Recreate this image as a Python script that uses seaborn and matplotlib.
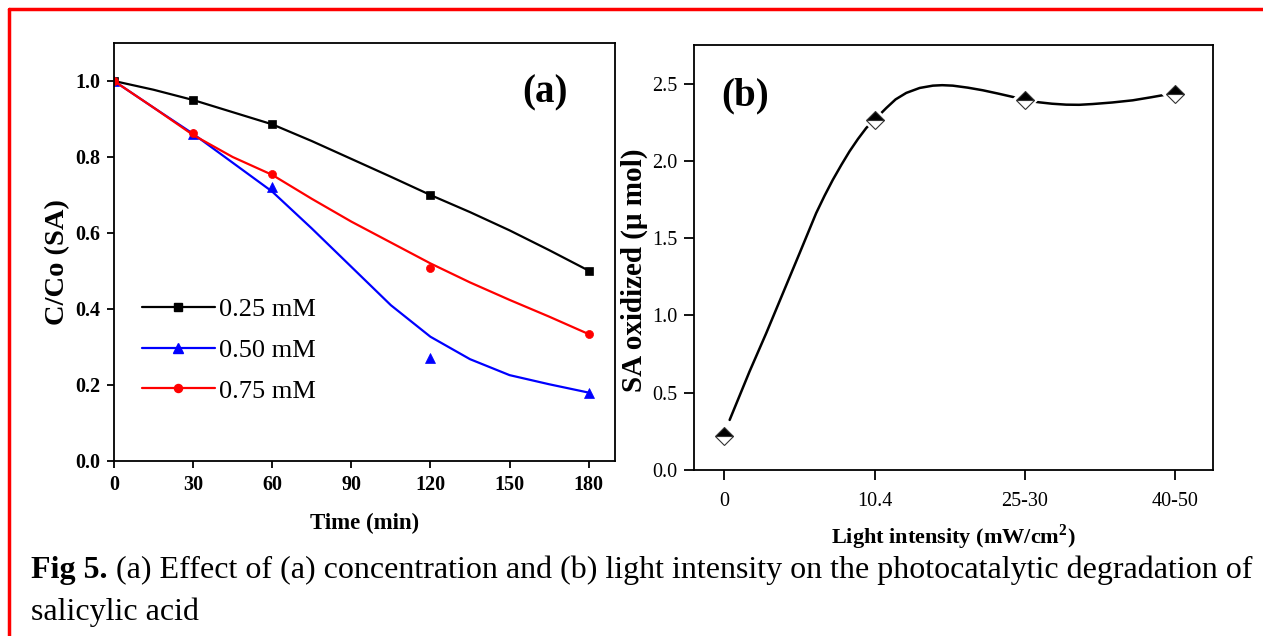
import matplotlib
matplotlib.use("Agg")
import matplotlib.pyplot as plt
from matplotlib.lines import Line2D
import seaborn as sns

# ---------------- data: panel (a) ----------------
time_pts = [0, 30, 60, 120, 180]
c025_pts = [1.00, 0.950, 0.886, 0.700, 0.500]
c050_pts = [1.00, 0.861, 0.722, 0.270, 0.180]
c075_pts = [1.00, 0.862, 0.755, 0.509, 0.333]

# fitted curves
time_curve = [0, 15, 30, 45, 60, 75, 90, 105, 120, 135, 150, 165, 180]
c025_curve = [1.000, 0.977, 0.950, 0.918, 0.886, 0.842, 0.795, 0.748, 0.700, 0.655, 0.607, 0.555, 0.501]
c050_curve = [1.000, 0.930, 0.861, 0.785, 0.709, 0.612, 0.511, 0.410, 0.327, 0.268, 0.226, 0.202, 0.180]
c075_curve = [1.000, 0.930, 0.858, 0.800, 0.753, 0.690, 0.630, 0.575, 0.520, 0.470, 0.424, 0.380, 0.334]
series_labels = ["0.25 mM", "0.50 mM", "0.75 mM"]

# ---------------- data: panel (b) ----------------
light_cats = ["0", "10.4", "25-30", "40-50"]
sa_oxidized = [0.22, 2.267, 2.392, 2.431]
curve_pos = [0.037, 0.169, 0.280, 0.391, 0.502, 0.612, 0.668, 0.723, 0.780, 0.834,
             0.890, 0.945, 1.0, 1.040, 1.078, 1.140, 1.211, 1.300, 1.388, 1.450,
             1.520, 1.620, 1.720, 1.820, 1.919, 2.0, 2.096, 2.180, 2.274, 2.360,
             2.450, 2.580, 2.716, 2.840, 2.938, 3.0]
curve_val = [0.324, 0.637, 0.885, 1.144, 1.403, 1.662, 1.775, 1.878, 1.975, 2.062,
             2.142, 2.213, 2.267, 2.305, 2.342, 2.398, 2.440, 2.472, 2.487, 2.490,
             2.487, 2.474, 2.457, 2.436, 2.414, 2.392, 2.379, 2.370, 2.364, 2.363,
             2.368, 2.378, 2.392, 2.412, 2.429, 2.431]

sns.set_theme(style="ticks")
plt.rcParams['font.family'] = ['Liberation Serif', 'DejaVu Serif']
plt.rcParams['mathtext.fontset'] = 'custom'
plt.rcParams['mathtext.rm'] = 'Liberation Serif'
plt.rcParams['mathtext.bf'] = 'Liberation Serif:bold'
for key in ['text.color', 'axes.labelcolor', 'xtick.color', 'ytick.color', 'axes.edgecolor']:
    plt.rcParams[key] = 'black'

fig = plt.figure(figsize=(12.63, 6.36), dpi=100)
fig.patch.set_facecolor("white")

# red frame (top and left)
fig.add_artist(Line2D([9/1263, 1.0], [1-9/636, 1-9/636], color="red", lw=2.5))
fig.add_artist(Line2D([9/1263, 9/1263], [1-9/636, 0.0], color="red", lw=2.5))

# ---------------- panel (a) ----------------
ax1 = fig.add_axes([114/1263, 1-461/636, (615-114)/1263, (461-43)/636])
cols = ["#000000", "#0000FF", "#FF0000"]
mk = ["s", "^", "o"]
msz = [5.8, 7.0, 5.8]
curves = [c025_curve, c050_curve, c075_curve]
pts = [c025_pts, c050_pts, c075_pts]
for cv, pv, c, m, s in zip(curves, pts, cols, mk, msz):
    sns.lineplot(x=time_curve, y=cv, ax=ax1, color=c, lw=1.6, estimator=None, sort=False)
    sns.lineplot(x=time_pts, y=pv, ax=ax1, color=c, linestyle="", marker=m,
                 markersize=s, markeredgecolor=c, markeredgewidth=0.5,
                 estimator=None, sort=False)
ax1.set_xlim(0, 190)
ax1.set_ylim(0, 1.1)
ax1.set_xticks([0, 30, 60, 90, 120, 150, 180])
ax1.set_yticks([0.0, 0.2, 0.4, 0.6, 0.8, 1.0])
ax1.set_yticklabels(["0.0", "0.2", "0.4", "0.6", "0.8", "1.0"])
for lab in ax1.get_xticklabels() + ax1.get_yticklabels():
    lab.set_fontweight("bold")
    lab.set_fontsize(14.5)
ax1.tick_params(direction="out", length=5, width=1.3, pad=5)
for sp in ax1.spines.values():
    sp.set_linewidth(1.3)
    sp.set_visible(True)
ax1.set_xlabel("Time (min)", fontsize=16.5, fontweight="bold", labelpad=13)
ax1.set_ylabel("C/Co (SA)", fontsize=20.5, fontweight="bold")
ax1.yaxis.set_label_coords(-0.088, 0.475)
ax1.text(0.86, 0.88, "(a)", transform=ax1.transAxes, fontsize=28,
         fontweight="bold", ha="center", va="center")
handles = [Line2D([], [], color=c, lw=1.6, marker=m, markersize=s,
                  markeredgecolor=c) for c, m, s in zip(cols, mk, msz)]
ax1.legend(handles, series_labels, loc="upper left", bbox_to_anchor=(0.055, 0.39),
           frameon=False, fontsize=19, handlelength=2.8, handletextpad=0.15,
           labelspacing=0.65, borderpad=0, borderaxespad=0)

# ---------------- panel (b) ----------------
ax2 = fig.add_axes([694/1263, 1-470/636, (1213-694)/1263, (470-45)/636])
sns.lineplot(x=curve_pos, y=curve_val, ax=ax2, color="black", lw=1.8,
             estimator=None, sort=False)
xpos = list(range(len(light_cats)))
# white halo to create the gap around markers
sns.lineplot(x=xpos, y=sa_oxidized, ax=ax2, linestyle="", marker="D",
             markersize=12.5, markerfacecolor="white", markeredgecolor="white",
             markeredgewidth=1.5, color="white", estimator=None, sort=False)
sns.lineplot(x=xpos, y=sa_oxidized, ax=ax2, linestyle="", marker="D",
             markersize=9, fillstyle="top", markerfacecolor="black",
             markerfacecoloralt="white", markeredgecolor="#333333",
             markeredgewidth=0.8, color="black", estimator=None, sort=False)
ax2.set_xlim(-0.2, 3.25)
ax2.set_ylim(0, 2.75)
ax2.set_xticks(xpos)
ax2.set_xticklabels(light_cats)
ax2.set_yticks([0.0, 0.5, 1.0, 1.5, 2.0, 2.5])
ax2.set_yticklabels(["0.0", "0.5", "1.0", "1.5", "2.0", "2.5"])
for lab in ax2.get_xticklabels() + ax2.get_yticklabels():
    lab.set_fontsize(14.5)
ax2.tick_params(direction="out", length=7, width=1.3, pad=5)
ax2.tick_params(axis="x", pad=9)
for sp in ax2.spines.values():
    sp.set_linewidth(1.3)
    sp.set_visible(True)
ax2.set_xlabel("Light intensity (mW/cm$^{\\mathbf{2}}$)", fontsize=16,
               fontweight="bold", labelpad=8)
ax2.set_ylabel("SA oxidized (\u03bc mol)", fontsize=21, fontweight="bold")
ax2.yaxis.set_label_coords(-0.088, 0.47)
ax2.text(0.098, 0.88, "(b)", transform=ax2.transAxes, fontsize=28,
         fontweight="bold", ha="center", va="center")

# ---------------- caption ----------------
t1 = fig.text(31/1263, 1-578/636, "Fig 5.", fontsize=23, fontweight="bold",
              ha="left", va="baseline")
fig.canvas.draw()
ax1.annotate(" (a) Effect of (a) concentration and (b) light intensity on the photocatalytic degradation of",
             xy=(1, 0), xycoords=t1, fontsize=23, ha="left", va="bottom",
             annotation_clip=False)
fig.text(31/1263, 1-620/636, "salicylic acid", fontsize=23, ha="left", va="baseline")

fig.savefig("out.png", dpi=100, facecolor="white")
